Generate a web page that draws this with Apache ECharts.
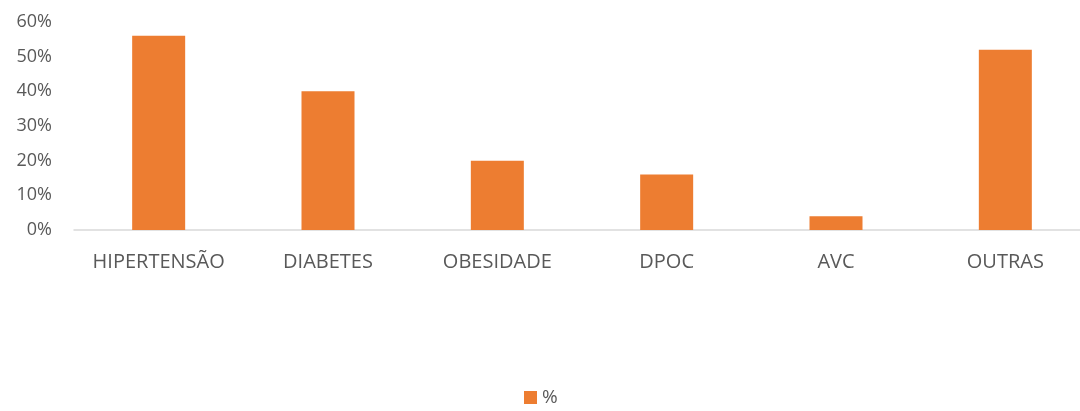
<!DOCTYPE html>
<html>
<head>
<meta charset="utf-8">
<script src="https://cdn.jsdelivr.net/npm/echarts@6/dist/echarts.min.js"></script>
<style>
  html, body { margin: 0; padding: 0; background: #fff; overflow: hidden; }
  #frame { width: 1080px; height: 411px; overflow: hidden; }
  /* the plot area runs a little past the right edge of the visible frame */
  #chart { width: 1090px; height: 411px; }
</style>
</head>
<body>
<div id="frame"><div id="chart"></div></div>
<script>
const categories = ['HIPERTENSÃO', 'DIABETES', 'OBESIDADE', 'DPOC', 'AVC', 'OUTRAS'];
const percentValues = [56, 40, 20, 16, 4, 52];
const yTicks = [0, 10, 20, 30, 40, 50, 60];
const seriesName = '%';

const fontFamily = '"Open Sans", "Noto Sans", sans-serif';
const chart = echarts.init(document.getElementById('chart'));
chart.setOption({
  animation: false,
  grid: { left: 74, right: 0, top: 22, bottom: 181, containLabel: false },
  legend: {
    data: [seriesName],
    bottom: -1,
    left: 519,
    itemWidth: 13,
    itemHeight: 13,
    itemGap: 6,
    icon: 'rect',
    textStyle: { color: '#595959', fontSize: 19, fontFamily: fontFamily }
  },
  xAxis: {
    type: 'category',
    data: categories,
    axisLine: { show: true, lineStyle: { color: '#d9d9d9', width: 1.5 } },
    axisTick: { show: false },
    axisLabel: { color: '#595959', fontSize: 20, fontFamily: fontFamily, margin: 22, interval: 0 }
  },
  yAxis: {
    type: 'value',
    min: yTicks[0],
    max: yTicks[yTicks.length - 1],
    interval: 10,
    splitLine: { show: false },
    axisLine: { show: false },
    axisTick: { show: false },
    axisLabel: {
      color: '#595959', fontSize: 18, fontFamily: fontFamily, margin: 22,
      formatter: v => v + '%'
    }
  },
  series: [{
    name: seriesName,
    type: 'bar',
    data: percentValues,
    barWidth: '31.3%',
    itemStyle: { color: '#ed7d31' }
  }]
});
</script>
</body>
</html>
